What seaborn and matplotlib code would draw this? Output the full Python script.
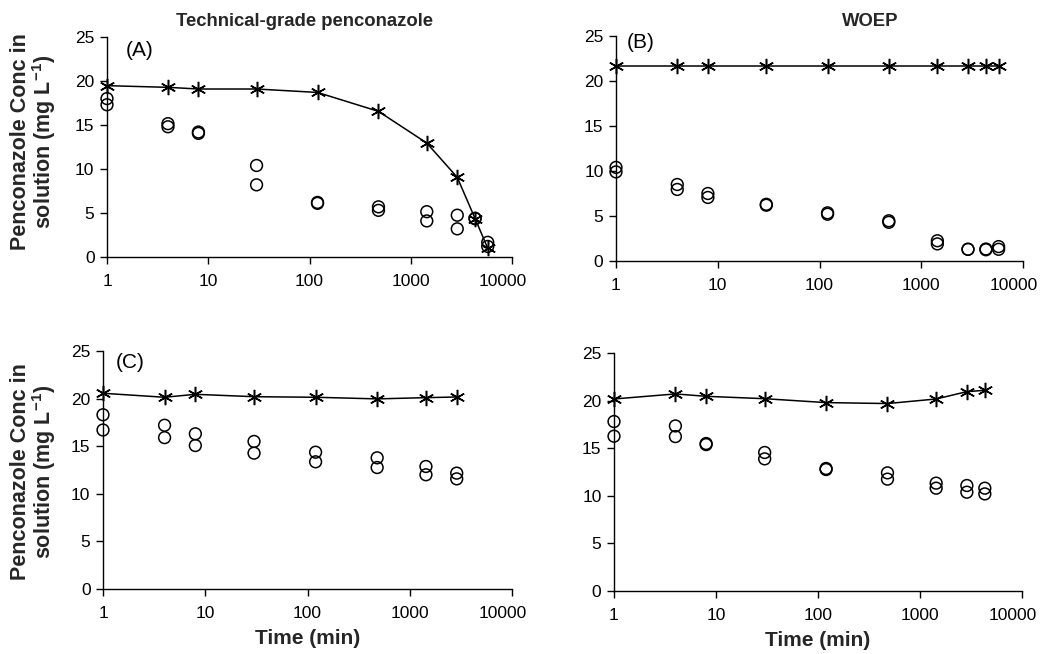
import matplotlib
matplotlib.use("Agg")
import matplotlib.pyplot as plt
import matplotlib.transforms as mtransforms
import seaborn as sns
import numpy as np

sns.set_theme(style="ticks")
plt.rcParams['font.family'] = ['Liberation Sans', 'DejaVu Sans']

# ---- data ----
time_A = [1, 4, 8, 30, 120, 480, 1440, 2880, 4320, 5760]
star_A = [19.47, 19.28, 19.09, 19.09, 18.7, 16.55, 12.95, 9.05, 4.36, 1.0]
circ1_A = [18.0, 15.15, 14.2, 10.4, 6.2, 5.7, 5.15, 4.75, 4.4, 1.67]
circ2_A = [17.3, 14.8, 14.05, 8.2, 6.1, 5.3, 4.1, 3.2, 4.35, 1.2]

time_B = [1, 4, 8, 30, 120, 480, 1440, 2880, 4320, 5760]
star_B = [21.7, 21.7, 21.7, 21.7, 21.7, 21.7, 21.7, 21.7, 21.7, 21.7]
circ1_B = [10.4, 8.5, 7.5, 6.3, 5.35, 4.47, 2.25, 1.3, 1.33, 1.6]
circ2_B = [9.9, 7.95, 7.06, 6.2, 5.2, 4.3, 1.9, 1.3, 1.25, 1.3]

time_C = [1, 4, 8, 30, 120, 480, 1440, 2880]
star_C = [20.56, 20.14, 20.45, 20.2, 20.14, 19.97, 20.1, 20.17]
circ1_C = [18.3, 17.2, 16.3, 15.5, 14.37, 13.78, 12.87, 12.17]
circ2_C = [16.7, 15.9, 15.07, 14.27, 13.36, 12.76, 12.0, 11.57]

time_D = [1, 4, 8, 30, 120, 480, 1440, 2880, 4320]
star_D = [20.17, 20.7, 20.45, 20.2, 19.79, 19.69, 20.17, 20.94, 21.08]
circ1_D = [17.8, 17.34, 15.49, 14.55, 12.87, 12.41, 11.33, 11.08, 10.8]
circ2_D = [16.26, 16.22, 15.38, 13.88, 12.76, 11.75, 10.8, 10.38, 10.2]

x_ticks = [1, 10, 100, 1000, 10000]
x_tick_labels = ["1", "10", "100", "1000", "10000"]
y_ticks = [0, 5, 10, 15, 20, 25]

titles = ["Technical-grade penconazole", "WOEP"]
panel_labels = ["(A)", "(B)", "(C)", None]
ylabel = "Penconazole Conc in\nsolution (mg L$^{\\mathregular{-1}}$)"
xlabel = "Time (min)"

W, H = 1041, 654
fig = plt.figure(figsize=(W / 100, H / 100), dpi=100)
fig.patch.set_facecolor("white")

# axes boxes in pixels: left, right, top, bottom
boxes = [(107, 512, 37, 257), (616, 1023, 36, 261), (103, 512, 351, 589), (614, 1022, 353, 591)]
label_pos = [(0.047, 0.94), (0.027, 0.97), (0.03, 0.95), None]

datasets = [
    (time_A, star_A, circ1_A, circ2_A),
    (time_B, star_B, circ1_B, circ2_B),
    (time_C, star_C, circ1_C, circ2_C),
    (time_D, star_D, circ1_D, circ2_D),
]

star_marker = (6, 2, 0)

for i, (box, data) in enumerate(zip(boxes, datasets)):
    l, r, t, b = box
    ax = fig.add_axes([l / W, 1 - b / H, (r - l) / W, (b - t) / H])
    ax.set_facecolor("white")
    tm, st, c1, c2 = data
    sns.lineplot(x=tm, y=st, ax=ax, color="black", linewidth=1.1,
                 marker=star_marker, markersize=11, markeredgewidth=1.1,
                 markeredgecolor="black", estimator=None, sort=False)
    for c in (c1, c2):
        sns.scatterplot(x=tm, y=c, ax=ax, marker="o", s=72,
                        facecolor="none", edgecolor="black", linewidth=1.1)
    ax.set_xscale("log")
    ax.set_xlim(1, 10000)
    ax.set_ylim(0, 25)
    ax.set_xticks(x_ticks)
    ax.set_xticklabels(x_tick_labels)
    ax.minorticks_off()
    ax.set_yticks(y_ticks)
    ax.tick_params(axis="both", direction="out", length=5, width=1, color="black",
                   labelsize=12.5, labelcolor="black", pad=4)
    ax.tick_params(axis="x", pad=7)
    for s in ("top", "right"):
        ax.spines[s].set_visible(False)
    for s in ("left", "bottom"):
        ax.spines[s].set_color("black")
        ax.spines[s].set_linewidth(1)
    for coll in ax.collections:
        coll.set_clip_on(False)
    for ln in ax.lines:
        ln.set_clip_on(False)
    ax.set_ylabel("")
    if i in (2, 3):
        ax.set_xlabel(xlabel, fontsize=15, fontweight="bold", labelpad=6)
    else:
        ax.set_xlabel("")
    lab = ax.get_xticklabels()[-1]
    lab.set_transform(lab.get_transform() +
                      mtransforms.ScaledTranslation(-9 / 100, 0, fig.dpi_scale_trans))
    if panel_labels[i]:
        ax.text(label_pos[i][0], label_pos[i][1], panel_labels[i], transform=ax.transAxes,
                fontsize=15, ha="left", va="center", color="black")

# y labels (left column)
fig.text(34 / W, 1 - 142 / H, ylabel, rotation=90, fontsize=15.5, fontweight="bold",
         ha="center", va="center", linespacing=1.0, multialignment="center")
fig.text(34 / W, 1 - 472 / H, ylabel, rotation=90, fontsize=15.5, fontweight="bold",
         ha="center", va="center", linespacing=1.0, multialignment="center")

fig.text(304 / W, 1 - 22 / H, titles[0], fontsize=13.3, fontweight="bold", ha="center", va="center")
fig.text(870 / W, 1 - 22 / H, titles[1], fontsize=13.3, fontweight="bold", ha="center", va="center")

fig.savefig("out.png", dpi=100, facecolor="white")
